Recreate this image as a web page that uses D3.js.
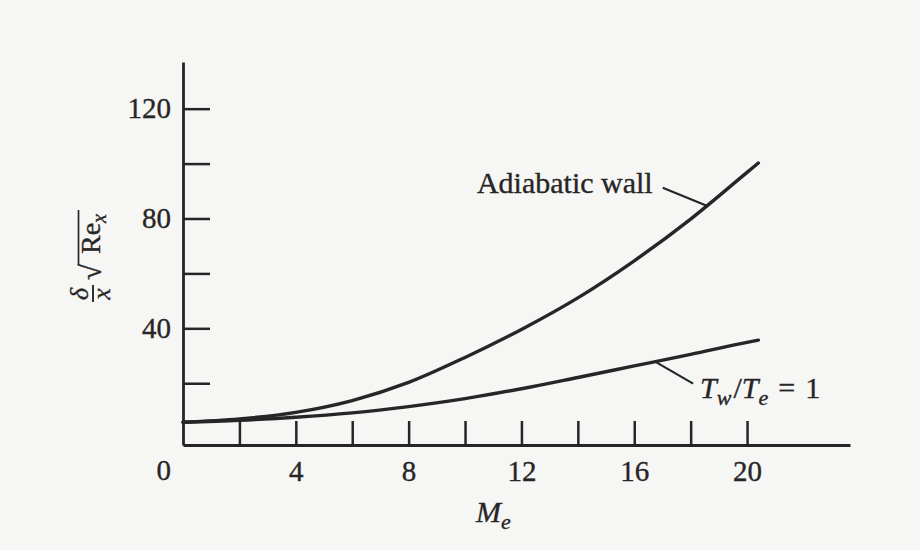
<!DOCTYPE html>
<html><head><meta charset="utf-8">
<script src="https://cdn.jsdelivr.net/npm/d3@7"></script>
<style>
html,body{margin:0;padding:0;background:#f6f6f4;}
svg{display:block;}
text{font-family:"Liberation Serif","Times New Roman",serif;fill:#262626;stroke:#262626;stroke-width:0.35px;}
</style></head><body>
<svg id="chart" width="920" height="550"></svg>
<script>
// ---- data ----
const machNumbers    = [0, 2, 4, 6, 8, 10, 12, 14, 16, 18, 20, 20.4];
const adiabaticWall  = [5.8, 7.0, 9.4, 13.7, 20.3, 29.4, 39.6, 51.1, 64.6, 79.8, 96.8, 100.2];
const isothermalWall = [5.8, 6.5, 7.6, 9.2, 11.5, 14.4, 18.0, 22.1, 26.3, 30.5, 34.9, 35.7];
const xTicks = [2, 4, 6, 8, 10, 12, 14, 16, 18, 20];
const xTickLabels = [4, 8, 12, 16, 20];
const yTicks = [20, 40, 60, 80, 100, 120];
const yTickLabels = [40, 80, 120];
const originLabel = "0";
const labelAnchorsMach = [18.57, 16.74];

const ink = "#262626";
const svg = d3.select("#chart");

const x = d3.scaleLinear().domain([0, 23.65]).range([183, 850]);
const y = d3.scaleLinear().domain([-2.5, 137]).range([445, 62]);

// x axis
const gx = svg.append("g").attr("transform", `translate(0,${y.range()[0]})`)
  .call(d3.axisBottom(x).tickValues(xTicks).tickSize(-24).tickSizeOuter(0).tickPadding(15)
        .tickFormat(d => xTickLabels.includes(d) ? d : ""));
// y axis
const gy = svg.append("g").attr("transform", `translate(${x(0)},0)`)
  .call(d3.axisLeft(y).tickValues(yTicks).tickSize(-27).tickSizeOuter(0).tickPadding(12)
        .tickFormat(d => yTickLabels.includes(d) ? d : ""));
[gx, gy].forEach(g => {
  g.select(".domain").attr("stroke", ink).attr("stroke-width", 2.8);
  g.selectAll(".tick line").attr("stroke", ink).attr("stroke-width", 2.5);
  g.selectAll(".tick text").attr("font-size", 29).attr("font-family", "Liberation Serif").attr("fill", ink);
});

// origin label
svg.append("text").attr("x", x(0) - 12).attr("y", 480).attr("text-anchor", "end")
  .attr("font-size", 29).text(originLabel);

// curves
const line = d3.line().x((d, i) => x(machNumbers[i])).y(d => y(d)).curve(d3.curveMonotoneX);
[adiabaticWall, isothermalWall].forEach(s => {
  svg.append("path").datum(s).attr("d", line).attr("fill", "none")
    .attr("stroke", ink).attr("stroke-width", 3.4).attr("stroke-linecap", "round");
});

function valueAt(series, m) {
  const i = Math.max(1, d3.bisectLeft(machNumbers, m));
  const t = (m - machNumbers[i - 1]) / (machNumbers[i] - machNumbers[i - 1]);
  return series[i - 1] + t * (series[i] - series[i - 1]);
}

// annotation: adiabatic wall
{
  const ax = x(labelAnchorsMach[0]), ay = y(valueAt(adiabaticWall, labelAnchorsMach[0]));
  svg.append("line").attr("x1", ax).attr("y1", ay).attr("x2", ax - 44).attr("y2", ay - 18)
    .attr("stroke", ink).attr("stroke-width", 2.2);
  svg.append("text").attr("x", ax - 54).attr("y", ay - 13).attr("text-anchor", "end")
    .attr("font-size", 30).text("Adiabatic wall");
}
// annotation: Tw/Te = 1
{
  const ax = x(labelAnchorsMach[1]), ay = y(valueAt(isothermalWall, labelAnchorsMach[1]));
  svg.append("line").attr("x1", ax).attr("y1", ay).attr("x2", ax + 38).attr("y2", ay + 22)
    .attr("stroke", ink).attr("stroke-width", 2.2);
  const t = svg.append("text").attr("x", ax + 45).attr("y", ay + 36).attr("font-size", 30);
  t.append("tspan").attr("font-style", "italic").text("T");
  t.append("tspan").attr("font-style", "italic").attr("font-size", 22).attr("dy", 7).text("w");
  t.append("tspan").attr("dy", -7).attr("dx", 2).text("/");
  t.append("tspan").attr("font-style", "italic").text("T");
  t.append("tspan").attr("font-style", "italic").attr("font-size", 22).attr("dy", 7).text("e");
  t.append("tspan").attr("dy", -7).attr("dx", 10).text("=");
  t.append("tspan").attr("dx", 10).text("1");
}

// x-axis title M_e
{
  const t = svg.append("text").attr("x", 476).attr("y", 522).attr("font-size", 30);
  t.append("tspan").attr("font-style", "italic").text("M");
  t.append("tspan").attr("font-style", "italic").attr("font-size", 22).attr("dy", 7).text("e");
}

// y-axis title: delta/x sqrt(Re_x), rotated
{
  const g = svg.append("g").attr("transform", "translate(100,240) rotate(-90)");
  g.append("text").attr("x", -54).attr("y", -12).attr("text-anchor", "middle")
    .attr("font-size", 26).attr("font-style", "italic").text("δ");
  g.append("line").attr("x1", -62).attr("x2", -45).attr("y1", -7).attr("y2", -7)
    .attr("stroke", ink).attr("stroke-width", 1.9);
  g.append("text").attr("x", -54).attr("y", 10).attr("text-anchor", "middle")
    .attr("font-size", 26).attr("font-style", "italic").text("x");
  g.append("text").attr("x", -40).attr("y", 1).attr("font-size", 29).text("√");
  g.append("line").attr("x1", -25).attr("x2", 30).attr("y1", -21.5).attr("y2", -21.5)
    .attr("stroke", ink).attr("stroke-width", 1.7);
  const t = g.append("text").attr("x", -14).attr("y", 0).attr("font-size", 28);
  t.append("tspan").text("Re");
  t.append("tspan").attr("font-style", "italic").attr("font-size", 20).attr("dy", 6).text("x");
}
</script>
</body></html>
